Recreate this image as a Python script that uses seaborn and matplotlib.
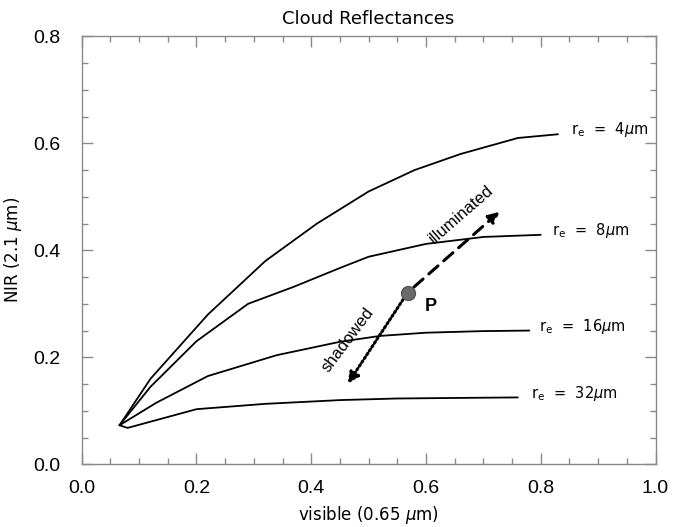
import matplotlib
matplotlib.use("Agg")
import matplotlib.pyplot as plt
import seaborn as sns
import pandas as pd

# Courbes de réflectance
x_4 = [0.066, 0.12, 0.22, 0.32, 0.41, 0.50, 0.58, 0.66, 0.76, 0.83]
y_4 = [0.073, 0.16, 0.28, 0.38, 0.45, 0.51, 0.55, 0.58, 0.61, 0.617]

x_8 = [0.066, 0.12, 0.20, 0.29, 0.37, 0.45, 0.50, 0.60, 0.70, 0.80]
y_8 = [0.073, 0.145, 0.23, 0.30, 0.332, 0.367, 0.388, 0.412, 0.425, 0.429]

x_16 = [0.066, 0.13, 0.22, 0.34, 0.45, 0.52, 0.60, 0.70, 0.78]
y_16 = [0.073, 0.115, 0.165, 0.204, 0.229, 0.24, 0.246, 0.249, 0.25]

x_32 = [0.066, 0.08, 0.20, 0.32, 0.45, 0.55, 0.65, 0.76]
y_32 = [0.073, 0.068, 0.103, 0.113, 0.12, 0.123, 0.124, 0.125]

radii = ["4", "8", "16", "32"]
label_pos = [(0.852, 0.625), (0.820, 0.437), (0.797, 0.257), (0.783, 0.133)]

# Point P et flèches
p_point = (0.568, 0.321)
illum_end = (0.728, 0.472)
shadow_end = (0.464, 0.151)

curves = {"4": (x_4, y_4), "8": (x_8, y_8), "16": (x_16, y_16), "32": (x_32, y_32)}

sns.set_theme(style="ticks")
plt.rcParams['font.family'] = ['DejaVu Sans']
plt.rcParams['text.color'] = 'black'
plt.rcParams['axes.labelcolor'] = 'black'
plt.rcParams['xtick.labelcolor'] = 'black'
plt.rcParams['ytick.labelcolor'] = 'black'

fig = plt.figure(figsize=(6.84, 5.27), dpi=100)
ax = fig.add_axes([0.1194, 0.119, 0.839, 0.812])

for r in radii:
    xs, ys = curves[r]
    df = pd.DataFrame({"vis": xs, "nir": ys})
    sns.lineplot(data=df, x="vis", y="nir", ax=ax, color="black",
                 sort=False, estimator=None, linewidth=1.3)

for r, (lx, ly) in zip(radii, label_pos):
    ax.text(lx, ly, r"r$_{\rm e}$  =  " + r + r"$\mu$m", fontsize=10.5,
            ha="left", va="center")

# Flèches
ax.annotate("", xy=illum_end, xytext=p_point,
            arrowprops=dict(arrowstyle="-|>", color="black", lw=2.2,
                            ls=(0, (4, 2.5)), mutation_scale=16,
                            shrinkA=6, shrinkB=0))
ax.annotate("", xy=shadow_end, xytext=p_point,
            arrowprops=dict(arrowstyle="-|>", color="black", lw=2.2,
                            ls=(0, (0.6, 0.9)), mutation_scale=16,
                            shrinkA=6, shrinkB=0))
ax.plot([p_point[0]], [p_point[1]], marker="o", markersize=10,
        color="#6b6b6b", markeredgecolor="#555555", zorder=5)

ax.text(0.609, 0.295, "P", fontsize=13, fontweight="bold",
        ha="center", va="center", family="Liberation Sans")
ax.text(0.661, 0.468, "illuminated", fontsize=12, rotation=41,
        ha="center", va="center", family="Liberation Sans")
ax.text(0.464, 0.232, "shadowed", fontsize=12, rotation=53,
        ha="center", va="center", family="Liberation Sans")

ax.set_xlim(0, 1.0)
ax.set_ylim(0, 0.8)
ax.set_xticks([0.0, 0.2, 0.4, 0.6, 0.8, 1.0])
ax.set_yticks([0.0, 0.2, 0.4, 0.6, 0.8])
ax.set_xticks([i * 0.05 for i in range(21)], minor=True)
ax.set_yticks([i * 0.05 for i in range(17)], minor=True)
ax.set_xticklabels(["0.0", "0.2", "0.4", "0.6", "0.8", "1.0"])
ax.set_yticklabels(["0.0", "0.2", "0.4", "0.6", "0.8"])

for s in ax.spines.values():
    s.set_visible(True)
    s.set_color("#8a8a8a")
    s.set_linewidth(1.0)
ax.tick_params(which="both", direction="in", top=True, right=True,
               color="#8a8a8a", width=1.0)
ax.tick_params(which="major", length=8)
ax.tick_params(which="minor", length=4)
ax.tick_params(axis="x", which="major", pad=11, labelsize=14)
ax.tick_params(axis="y", which="major", pad=15, labelsize=14)
for lab in ax.get_xticklabels() + ax.get_yticklabels():
    lab.set_family("Liberation Sans")
    lab.set_fontweight("medium")

ax.set_xlabel(r"visible (0.65 $\mu$m)", fontsize=12, labelpad=5)
ax.set_ylabel(r"NIR (2.1 $\mu$m)", fontsize=12, labelpad=7)
ax.set_title("Cloud Reflectances", fontsize=13, pad=9)

fig.savefig("out.png", dpi=100)
